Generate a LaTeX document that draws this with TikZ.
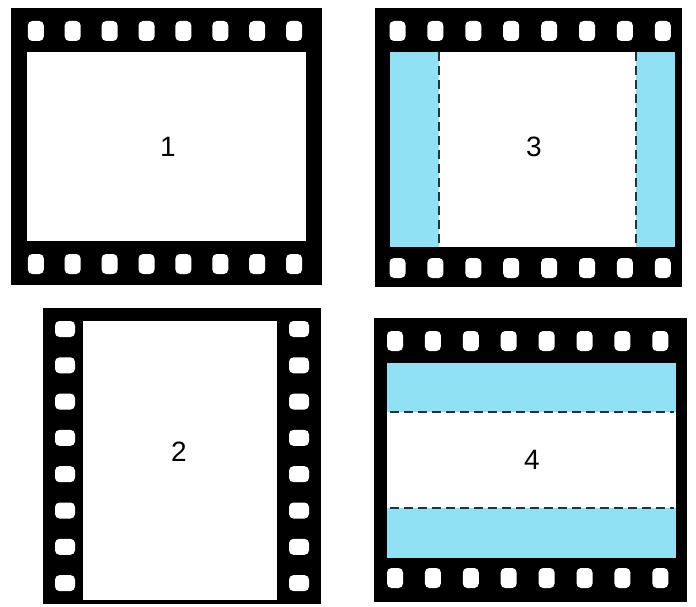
\documentclass[tikz,border=0pt]{standalone}
\usepackage{fontspec}
\setmainfont{Liberation Sans}
\definecolor{filmblue}{RGB}{145,225,245}
\definecolor{dashcol}{RGB}{40,50,60}
\tikzset{
  filmbody/.style={fill=black},
  gate/.style={fill=white},
  hole/.style={fill=white, rounded corners=4.5pt},
  bluezone/.style={fill=filmblue},
  cutline/.style={draw=dashcol, line width=2.2pt, dash pattern=on 9pt off 5pt},
  numlabel/.style={font=\fontsize{28}{28}\selectfont, text=black, inner sep=0pt}
}
\begin{document}
\begin{tikzpicture}[x=1pt,y=-1pt]
\useasboundingbox (0,0) rectangle (696,607);
\fill[white] (0,0) rectangle (696,607);

% ---------- Frame 1 ----------
\fill[filmbody] (11,8) rectangle (322,285);
\fill[gate] (27,52) rectangle (306,241);
\foreach \i in {0,...,7}{
  \pgfmathsetmacro{\cx}{35.8+36.9*\i}
  \fill[hole] (\cx-8,21) rectangle (\cx+8,41);
  \fill[hole] (\cx-8,254) rectangle (\cx+8,274);
}
\node[numlabel] (n1) at (168,147) {1};

% ---------- Frame 3 ----------
\fill[filmbody] (375,8) rectangle (682,287);
\fill[gate] (390,52) rectangle (675,247);
\fill[bluezone] (390,52) rectangle (439,247);
\fill[bluezone] (636,52) rectangle (675,247);
\foreach \i in {0,...,7}{
  \pgfmathsetmacro{\cx}{397.5+37.9*\i}
  \fill[hole] (\cx-8,21) rectangle (\cx+8,41);
  \fill[hole] (\cx-8,258) rectangle (\cx+8,278);
}
\coordinate (c3a) at (439,52);
\coordinate (c3b) at (439,247);
\coordinate (c3c) at (636,52);
\coordinate (c3d) at (636,247);
\draw[cutline] (c3a) -- (c3b);
\draw[cutline] (c3c) -- (c3d);
\node[numlabel] (n3) at (534,147) {3};

% ---------- Frame 2 ----------
\fill[filmbody] (43,308) rectangle (321,604);
\fill[gate] (83,321) rectangle (277,600);
\foreach \i in {0,...,7}{
  \pgfmathsetmacro{\cy}{329+36.3*\i}
  \fill[hole] (55,\cy-8) rectangle (75,\cy+8);
  \fill[hole] (289,\cy-8) rectangle (309,\cy+8);
}
\node[numlabel] (n2) at (179,452) {2};

% ---------- Frame 4 ----------
\fill[filmbody] (374,318) rectangle (687,602);
\fill[gate] (387,363) rectangle (676,558);
\fill[bluezone] (387,363) rectangle (676,412);
\fill[bluezone] (387,508) rectangle (676,558);
\foreach \i in {0,...,7}{
  \pgfmathsetmacro{\cx}{395+37.9*\i}
  \fill[hole] (\cx-8,331) rectangle (\cx+8,351);
  \fill[hole] (\cx-8,568) rectangle (\cx+8,588);
}
\coordinate (c4a) at (390,412);
\coordinate (c4b) at (674,412);
\coordinate (c4c) at (390,508);
\coordinate (c4d) at (674,508);
\draw[cutline] (c4a) -- (c4b);
\draw[cutline] (c4c) -- (c4d);
\node[numlabel] (n4) at (532,460) {4};
\end{tikzpicture}
\end{document}
